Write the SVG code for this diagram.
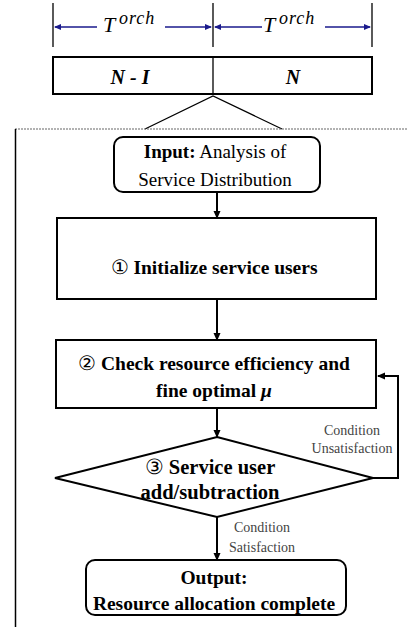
<svg xmlns="http://www.w3.org/2000/svg" width="407" height="627" viewBox="0 0 407 627" font-family="Liberation Serif, serif">
<style>
text{fill:#000;text-anchor:middle}
.b{font-weight:bold;font-size:19.5px}
.d{font-weight:bold;font-size:20.5px}
.r{font-size:19px}
.lab{font-size:14px;fill:#444}
.box{fill:#fff;stroke:#000;stroke-width:2}
.ln{stroke:#000;stroke-width:2;fill:none}
.blue{stroke:#1a1a8c;stroke-width:1.3;fill:none}
.tk{stroke:#000;stroke-width:1.3}
.it{font-style:italic;text-anchor:start}
.cn{font-weight:normal}
</style>
<defs>
<marker id="ah" markerWidth="8" markerHeight="8" refX="7" refY="4" orient="auto" markerUnits="userSpaceOnUse">
<path d="M0,0.5 L8,4 L0,7.5 Z" fill="#000"/>
</marker>
<marker id="bh" markerWidth="7" markerHeight="6" refX="6" refY="3" orient="auto" markerUnits="userSpaceOnUse">
<path d="M0,0 L7,3 L0,6 Z" fill="#1a1a8c"/>
</marker>
</defs>
<g id="timeline">
<line class="tk" x1="53" y1="3" x2="53" y2="47"/>
<line class="tk" x1="213" y1="3" x2="213" y2="47"/>
<line class="tk" x1="372" y1="3" x2="372" y2="47"/>
<line class="blue" x1="97" y1="27" x2="55" y2="27" marker-end="url(#bh)"/>
<line class="blue" x1="165" y1="27" x2="211" y2="27" marker-end="url(#bh)"/>
<line class="blue" x1="262" y1="27" x2="215" y2="27" marker-end="url(#bh)"/>
<line class="blue" x1="325" y1="27" x2="370" y2="27" marker-end="url(#bh)"/>
<text x="103" y="32" class="it" style="font-size:22px">T</text>
<text x="119" y="24" class="it" style="font-size:18px;letter-spacing:1px">orch</text>
<text x="263" y="32" class="it" style="font-size:22px">T</text>
<text x="279" y="24" class="it" style="font-size:18px;letter-spacing:1px">orch</text>
<rect class="box" x="53" y="57" width="319" height="37"/>
<line class="tk" x1="213" y1="57" x2="213" y2="94"/>
<text x="130" y="84" style="font-style:italic;font-size:20px;font-weight:bold">N - I</text>
<text x="293" y="84" style="font-style:italic;font-size:20px;font-weight:bold">N</text>
</g>
<g id="frame">
<polyline points="145,129 213,96 282,129" fill="none" stroke="#000" stroke-width="1.3"/>
<line x1="15" y1="129" x2="407" y2="129" stroke="#666" stroke-width="1.2" stroke-dasharray="2,1"/>
<line x1="15.5" y1="129" x2="15.5" y2="627" stroke="#000" stroke-width="1.5"/>
</g>
<g id="connectors">
<line class="ln" x1="217" y1="192" x2="217" y2="218" marker-end="url(#ah)"/>
<line class="ln" x1="217" y1="299" x2="217" y2="340" marker-end="url(#ah)"/>
<line class="ln" x1="217" y1="408" x2="217" y2="437" marker-end="url(#ah)"/>
<line class="ln" x1="217" y1="517" x2="217" y2="560" marker-end="url(#ah)"/>
<polyline class="ln" points="373,478 398,478 398,376 378,376" marker-end="url(#ah)"/>
<text x="352" y="435" class="lab">Condition</text>
<text x="352" y="453" class="lab">Unsatisfaction</text>
<text x="262" y="532" class="lab">Condition</text>
<text x="262" y="552" class="lab">Satisfaction</text>
</g>
<g id="input">
<rect class="box" x="114" y="137" width="206" height="55" rx="9"/>
<text x="215" y="158" class="r"><tspan font-weight="bold">Input:</tspan> Analysis of</text>
<text x="215" y="186" class="r">Service Distribution</text>
</g>
<g id="step1">
<rect class="box" x="57" y="218" width="319" height="81"/>
<text x="214" y="274" class="b"><tspan class="cn">①</tspan> Initialize service users</text>
</g>
<g id="step2">
<rect class="box" x="56" y="340" width="320" height="68"/>
<text x="214" y="370" class="b"><tspan class="cn">②</tspan> Check resource efficiency and</text>
<text x="214" y="397" class="b">fine optimal <tspan font-style="italic">μ</tspan></text>
</g>
<g id="step3">
<polygon class="box" points="217,437 373,478 217,517 55,478"/>
<text x="210" y="474" class="d"><tspan class="cn">③</tspan> Service user</text>
<text x="210" y="499" class="d">add/subtraction</text>
</g>
<g id="output">
<rect class="box" x="86" y="560" width="260" height="55" rx="9"/>
<text x="214" y="584" class="b">Output:</text>
<text x="214" y="610" class="b">Resource allocation complete</text>
</g>
</svg>
